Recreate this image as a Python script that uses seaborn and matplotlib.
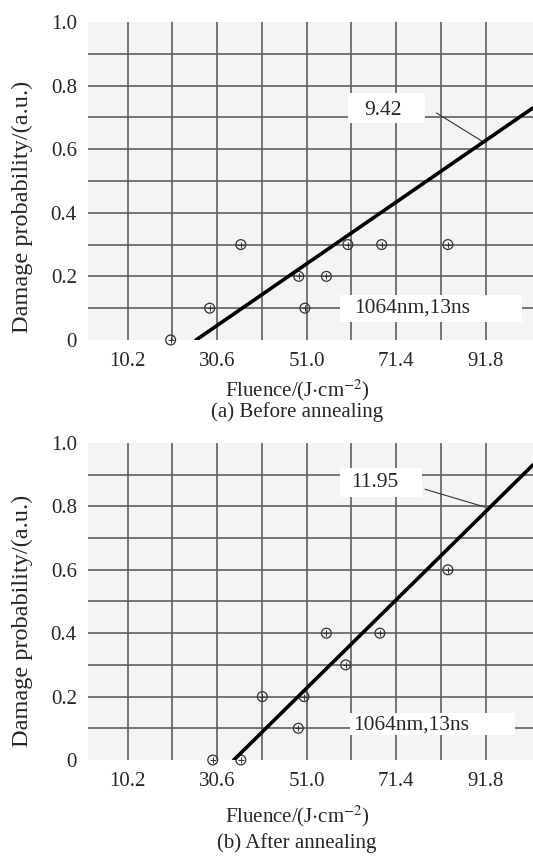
import numpy as np
import pandas as pd
import matplotlib
matplotlib.use("Agg")
import matplotlib.pyplot as plt
from matplotlib.patches import Rectangle
import seaborn as sns

# ------------------------
# Data
# ------------------------

# (a) before annealing
before_x = [20.0, 28.9, 36.0, 49.2, 50.6, 55.5, 60.4, 68.1, 83.2]
before_y = [0.0, 0.1, 0.3, 0.2, 0.1, 0.2, 0.3, 0.3, 0.3]
before_fit_x = [25.8, 102.6]
before_fit_y = [0.0, 0.730]
before_label = "9.42"

# (b) after annealing
after_x = [29.6, 36.0, 40.9, 49.1, 50.4, 55.5, 59.9, 67.7, 83.2]
after_y = [0.0, 0.0, 0.2, 0.1, 0.2, 0.4, 0.3, 0.4, 0.6]
after_fit_x = [34.4, 102.6]
after_fit_y = [0.0, 0.931]
after_label = "11.95"

x_ticks = [10.2, 30.6, 51.0, 71.4, 91.8]
x_grid = [10.2, 20.4, 30.6, 40.8, 51.0, 61.2, 71.4, 81.6, 91.8]
y_ticks = [0.0, 0.2, 0.4, 0.6, 0.8, 1.0]
y_ticklabels = ["0", "0.2", "0.4", "0.6", "0.8", "1.0"]
condition = "1064nm,13ns"
captions = ["(a) Before annealing", "(b) After annealing"]

sns.set_theme(style="white")
plt.rcParams["font.family"] = ["Liberation Serif", "DejaVu Serif"]
plt.rcParams["mathtext.fontset"] = "stix"

fig = plt.figure(figsize=(5.33, 8.6), dpi=100)
ax_a = fig.add_axes([0.165, 0.6047, 0.835, 0.3697])
ax_b = fig.add_axes([0.165, 0.1163, 0.835, 0.3686])

# layout of the annotations, per panel
# (label box, label text, leader line, condition box, condition text, ylabel y, xlabel y)
layout = [
    dict(lbox=(60.4, 0.682, 17.6, 0.095), ltxt=(68.3, 0.723),
         lead=((80.6, 90.9), (0.714, 0.626)),
         cbox=(58.5, 0.057, 41.5, 0.085), ctxt=(61.9, 0.100),
         ylab=0.418, xlab=-0.157, cap=0.521),
    dict(lbox=(58.5, 0.830, 18.9, 0.091), ltxt=(66.5, 0.874),
         lead=((78.0, 91.6), (0.854, 0.798)),
         cbox=(60.9, 0.079, 37.5, 0.069), ctxt=(61.5, 0.110),
         ylab=0.44, xlab=-0.179, cap=0.0198),
]

panels = [
    (ax_a, before_x, before_y, before_fit_x, before_fit_y, before_label),
    (ax_b, after_x, after_y, after_fit_x, after_fit_y, after_label),
]

for i, (ax, px, py, fx, fy, lab) in enumerate(panels):
    L = layout[i]
    ax.set_facecolor("#f4f4f4")
    ax.set_xlim(1.15, 102.6)
    ax.set_ylim(0, 1.0)

    # grid
    for gx in x_grid:
        ax.axvline(gx, color="#5e5e5e", lw=1.2, zorder=1)
    for gy in np.arange(0.1, 1.0, 0.1):
        ax.axhline(gy, color="#5e5e5e", lw=1.2, zorder=1)

    df = pd.DataFrame({"x": px, "y": py})
    sns.scatterplot(data=df, x="x", y="y", ax=ax, marker="o", s=50,
                    facecolor="none", edgecolor="#333333", linewidth=0.9,
                    zorder=3, clip_on=False)
    sns.scatterplot(data=df, x="x", y="y", ax=ax, marker="+", s=14,
                    color="#333333", linewidth=0.7, zorder=3, clip_on=False)

    fit = pd.DataFrame({"x": fx, "y": fy})
    sns.lineplot(data=fit, x="x", y="y", ax=ax, color="black", lw=2.6,
                 zorder=4)

    ax.plot(L["lead"][0], L["lead"][1], color="#333333", lw=0.8, zorder=4)

    bx, by, bw, bh = L["lbox"]
    ax.add_patch(Rectangle((bx, by), bw, bh, facecolor="white",
                           edgecolor="none", zorder=5))
    ax.text(*L["ltxt"], lab, fontsize=15.5, ha="center", va="center",
            zorder=6)

    bx, by, bw, bh = L["cbox"]
    ax.add_patch(Rectangle((bx, by), bw, bh, facecolor="white",
                           edgecolor="none", zorder=5))
    ax.text(*L["ctxt"], condition, fontsize=15.5, ha="left", va="center",
            zorder=6)

    ax.set_xticks(x_ticks)
    ax.set_xticklabels([f"{t:.1f}" for t in x_ticks])
    ax.set_yticks(y_ticks)
    ax.set_yticklabels(y_ticklabels)
    ax.tick_params(length=0, labelsize=15)
    ax.tick_params(axis="y", pad=8)
    ax.tick_params(axis="x", pad=9)
    for s in ax.spines.values():
        s.set_visible(False)

    ax.set_xlabel(r"Fluence/(J$\cdot$cm$^{-2}$)", fontsize=15)
    ax.xaxis.set_label_coords(0.47, L["xlab"])
    ax.xaxis.label.set_verticalalignment("center")
    ax.set_ylabel("Damage probability/(a.u.)", fontsize=17.5)
    ax.yaxis.set_label_coords(-0.148, L["ylab"])
    ax.yaxis.label.set_verticalalignment("center")

    fig.text(0.557, L["cap"], captions[i], fontsize=15, ha="center",
             va="center")

fig.savefig("out.png", dpi=100)
